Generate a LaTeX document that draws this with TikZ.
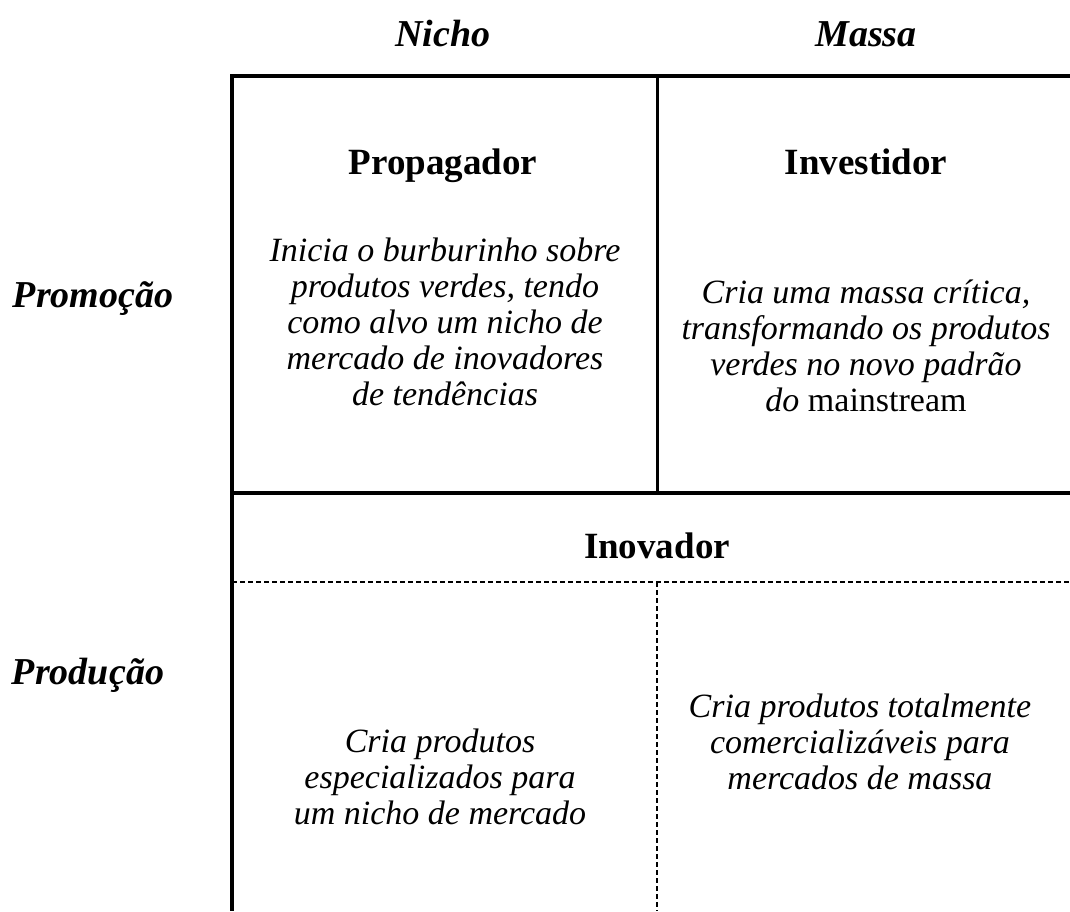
\documentclass[tikz,border=0pt]{standalone}
\usepackage{fontspec}
\setmainfont{Liberation Serif}
\usetikzlibrary{positioning}

\tikzset{
  axislabel/.style={font=\fontsize{38}{40}\selectfont\bfseries\itshape},
  rolename/.style={font=\fontsize{37}{40}\selectfont\bfseries},
  roletext/.style={align=center, font=\fontsize{34}{36}\selectfont\itshape},
  gridline/.style={line width=4pt},
  cellline/.style={line width=3pt},
  splitline/.style={line width=1.6pt, dash pattern=on 5pt off 3pt}
}

\begin{document}
\begin{tikzpicture}[x=1pt, y=-1pt]
  \useasboundingbox (0,0) rectangle (1070,911);
  %% outer frame and cells
  \coordinate (tl) at (232,76);
  \coordinate (tr) at (1070,76);
  \coordinate (bl) at (232,911);
  \coordinate (ml) at (232,493);
  \coordinate (mr) at (1070,493);
  \coordinate (mt) at (657,76);
  \coordinate (mm) at (657,493);
  \coordinate (dl) at (232,582);
  \coordinate (dr) at (1070,582);
  \coordinate (dm) at (657,582);
  \coordinate (db) at (657,911);
  \draw[gridline] (tr) -- (tl) -- (bl);
  \draw[gridline] (ml) -- (mr);
  \draw[cellline] (mt) -- (mm);
  \draw[splitline] (dl) -- (dr);
  \draw[splitline] (dm) -- (db);
  %% axis labels
  \node[axislabel, anchor=base] (nicho) at (443,46) {Nicho};
  \node[axislabel, anchor=base] (massa) at (866,46) {Massa};
  \node[axislabel, anchor=base] (promocao) at (93,307) {Promoção};
  \node[axislabel, anchor=base] (producao) at (88,684) {Produção};
  %% upper cells
  \node[rolename, anchor=base] (propagador) at (443,174) {Propagador};
  \node[roletext] (propagadortxt) at (445,322)
    {Inicia o burburinho sobre\\produtos verdes, tendo\\como alvo um nicho de\\mercado de inovadores\\de tendências};
  \node[rolename, anchor=base] (investidor) at (866,174) {Investidor};
  \node[roletext] (investidortxt) at (866,346)
    {Cria uma massa crítica,\\transformando os produtos\\verdes no novo padrão\\do \textup{mainstream}};
  %% lower cell
  \node[rolename, anchor=base] (inovador) at (657,558) {Inovador};
  \node[roletext] (nichotxt) at (440,777)
    {Cria produtos\\especializados para\\um nicho de mercado};
  \node[roletext] (massatxt) at (860,742)
    {Cria produtos totalmente\\comercializáveis para\\mercados de massa};
\end{tikzpicture}
\end{document}
